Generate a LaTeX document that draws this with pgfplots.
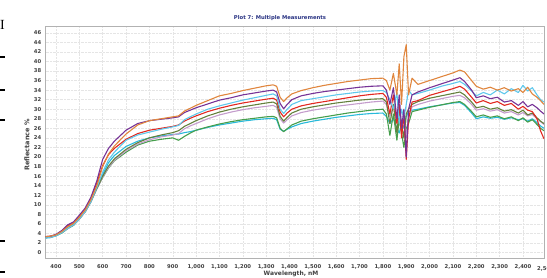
\documentclass[border=0pt]{standalone}
\usepackage{fontspec}
\setmainfont{DejaVu Sans}
\newfontfamily\serifartifact{Liberation Serif}
\usepackage{pgfplots}
\usepackage{pgfplotstable}
\pgfplotsset{compat=1.18}

\definecolor{cO}{RGB}{224,134,62}
\definecolor{cP}{RGB}{118,50,150}
\definecolor{cC}{RGB}{95,200,236}
\definecolor{cR}{RGB}{226,40,32}
\definecolor{cD}{RGB}{100,128,60}
\definecolor{cK}{RGB}{196,156,204}
\definecolor{cG}{RGB}{70,158,76}
\definecolor{cL}{RGB}{40,186,218}
\definecolor{titleblue}{RGB}{40,50,130}

\pgfplotstableread{
nm O P C R D K G L
350 3.3 3.3 3.1 3.3 3.2 3.1 3.1 3.0
375 3.4 3.4 3.2 3.4 3.3 3.2 3.2 3.1
400 3.7 3.8 3.5 3.7 3.6 3.5 3.5 3.5
425 4.4 4.6 4.2 4.5 4.3 4.2 4.1 4.1
450 5.4 5.8 5.1 5.6 5.2 5.0 5.0 5.0
475 6.1 6.4 5.8 6.2 5.9 5.8 5.7 5.7
500 7.4 7.8 7.1 7.6 7.2 7.0 7.0 7.0
525 8.9 9.3 8.6 9.1 8.7 8.5 8.5 8.5
550 11.1 11.6 10.8 11.4 10.9 10.7 10.7 10.6
575 14.0 15.0 13.6 14.6 13.4 13.3 13.4 13.5
600 18.0 19.5 16.8 18.2 16.0 15.8 15.7 16.3
625 20.6 21.8 19.4 20.5 18.1 17.8 17.7 18.8
650 22.3 23.3 21.0 21.8 19.6 19.3 19.2 20.3
700 24.8 25.6 23.5 23.7 21.6 21.3 21.0 22.2
750 26.7 27.0 24.6 24.9 23.0 22.7 22.5 23.3
800 27.6 27.6 25.2 25.6 24.0 23.6 23.3 24.0
850 28.0 27.9 25.8 26.0 24.6 24.2 23.7 24.4
900 28.4 28.2 26.3 26.4 25.1 24.6 24.0 24.7
925 28.6 28.4 26.6 26.7 25.5 24.9 23.5 24.8
950 29.6 29.3 27.8 27.5 26.4 25.9 24.3 25.1
975 30.2 29.8 28.4 28.1 27.0 26.5 25.0 25.3
1000 30.8 30.3 29.0 28.6 27.6 27.0 25.6 25.6
1050 31.8 31.1 30.0 29.5 28.6 28.0 26.3 26.2
1100 32.8 31.9 30.7 30.2 29.4 28.8 26.9 26.7
1150 33.3 32.4 31.3 30.8 30.0 29.4 27.4 27.1
1200 33.9 33.0 31.9 31.3 30.5 29.9 27.8 27.5
1250 34.4 33.4 32.4 31.7 30.9 30.3 28.1 27.8
1300 34.9 33.8 32.9 32.1 31.3 30.6 28.4 28.0
1330 35.1 34.0 33.2 32.3 31.5 30.8 28.5 28.1
1345 34.8 33.6 32.8 31.9 31.1 30.4 28.2 27.8
1360 32.5 31.2 30.0 29.4 28.5 28.0 26.0 25.8
1375 31.6 30.1 29.1 28.4 27.5 27.1 25.3 25.4
1390 32.4 31.0 30.0 29.2 28.3 27.8 25.9 25.8
1410 33.2 32.0 31.0 30.0 29.2 28.6 26.7 26.3
1450 33.9 32.8 31.8 30.7 30.0 29.3 27.5 27.0
1500 34.5 33.3 32.2 31.2 30.5 29.8 28.0 27.5
1550 35.0 33.7 32.6 31.6 30.9 30.2 28.4 27.9
1600 35.4 34.0 33.0 32.0 31.3 30.6 28.8 28.3
1650 35.8 34.3 33.3 32.4 31.6 30.9 29.2 28.6
1700 36.1 34.6 33.6 32.8 31.9 31.2 29.5 28.9
1750 36.4 34.8 33.8 33.1 32.1 31.5 29.8 29.1
1800 36.5 34.9 33.9 33.3 32.2 31.7 30.0 29.2
1815 36.0 34.0 33.5 32.5 31.5 31.0 29.0 28.5
1830 34.0 31.0 32.0 29.0 27.0 28.5 24.5 27.0
1845 37.5 34.5 30.0 33.0 31.0 30.5 29.0 28.0
1860 33.0 28.0 33.5 27.0 25.0 27.5 23.5 26.0
1870 39.5 33.0 27.0 31.0 30.0 30.0 28.0 25.0
1880 31.0 26.0 30.0 24.0 27.0 26.0 25.0 27.0
1890 41.0 30.0 28.0 29.0 24.0 29.0 22.0 26.0
1900 43.5 20.0 31.0 19.5 29.0 24.0 26.0 28.5
1910 33.0 30.0 34.0 28.0 30.0 28.0 27.0 29.5
1925 36.5 33.0 33.0 31.5 31.0 30.5 29.5 29.8
1950 35.2 33.6 33.3 31.8 31.6 31.0 29.8 30.0
2000 36.0 34.5 34.0 32.9 32.3 31.7 30.4 30.5
2050 36.8 35.3 34.8 33.6 32.8 32.2 30.9 30.9
2100 37.6 36.1 35.4 34.3 33.3 32.7 31.4 31.3
2130 38.2 36.6 35.8 34.8 33.6 32.9 31.6 31.4
2150 37.8 35.8 35.2 34.2 33.0 32.4 31.0 30.8
2180 36.0 34.0 33.8 32.5 31.5 31.0 29.5 29.2
2200 34.8 32.4 32.8 31.3 30.3 29.8 28.4 28.0
2230 34.2 32.8 33.5 31.8 30.6 30.1 28.8 28.4
2260 34.6 32.2 33.0 31.2 30.0 29.6 28.3 28.1
2290 34.0 32.5 34.0 31.6 30.3 29.9 28.6 28.3
2320 34.5 31.5 33.2 30.8 29.6 29.2 28.0 27.9
2350 33.8 31.8 34.3 31.2 29.9 29.5 28.4 28.2
2380 34.3 30.8 33.5 30.0 29.2 28.8 27.6 27.8
2400 33.5 31.6 35.0 30.6 29.8 29.3 28.2 28.0
2420 34.6 30.5 33.8 29.8 28.8 28.6 27.3 27.5
2440 33.2 31.0 34.5 29.5 29.2 28.9 27.8 28.0
2460 32.5 30.3 33.0 28.0 28.2 28.0 26.8 27.2
2475 31.8 29.6 32.0 25.5 27.5 27.4 26.0 26.5
2490 31.0 29.0 31.5 23.8 27.0 26.8 25.5 26.0
}\spectra

\begin{document}
\begin{tikzpicture}
\begin{axis}[
  at={(45.7bp,20bp)}, anchor=south west,
  scale only axis, width=498.3bp, height=232bp,
  xmin=356, xmax=2490, ymin=-1.15, ymax=47.42,
  xtick={400,500,...,2400}, ytick={0,2,...,46},
  major tick length=0pt,
  grid=major, grid style={gray!20, densely dotted, line width=0.4bp},
  axis line style={gray!60, line width=0.6bp},
  tick label style={font=\fontsize{5.3}{6}\selectfont\bfseries, text=black!75},
  /pgf/number format/assume math mode=true,
  /pgf/number format/1000 sep={,},
  xticklabel style={yshift=-3bp},
  yticklabel style={xshift=-1bp},
  every axis plot/.append style={line width=1.1bp, no markers, line join=round},
]
\addplot[cL] table[x=nm,y=L] {\spectra};
\addplot[cG] table[x=nm,y=G] {\spectra};
\addplot[cK] table[x=nm,y=K] {\spectra};
\addplot[cD] table[x=nm,y=D] {\spectra};
\addplot[cR] table[x=nm,y=R] {\spectra};
\addplot[cC] table[x=nm,y=C] {\spectra};
\addplot[cP] table[x=nm,y=P] {\spectra};
\addplot[cO] table[x=nm,y=O] {\spectra};
\end{axis}
\node[font=\fontsize{5.3}{6}\selectfont\bfseries, text=black!75, anchor=west, inner sep=0pt] at (537bp,9.3bp) {2,500};
\node[font=\fontsize{5.3}{6}\selectfont\bfseries, text=titleblue] at (280bp,260bp) {Plot 7: Multiple Measurements};
\node[font=\fontsize{6}{7}\selectfont\bfseries, text=black!75] at (291bp,4.3bp) {Wavelength, nM};
\node[font=\fontsize{6.5}{7}\selectfont\bfseries, text=black!75, rotate=90] at (27bp,133bp) {Reflectance \%};
\node[font=\fontsize{14}{14}\selectfont\serifartifact, anchor=west, inner sep=0pt] at (0bp,253bp) {I};
\foreach \yy in {221,188,158,37,6} {\draw[line width=1.2bp] (0bp,\yy bp) -- (5bp,\yy bp);}
\pgfresetboundingbox
\path[use as bounding box] (0,0) rectangle (547bp,278bp);
\end{tikzpicture}
\end{document}
